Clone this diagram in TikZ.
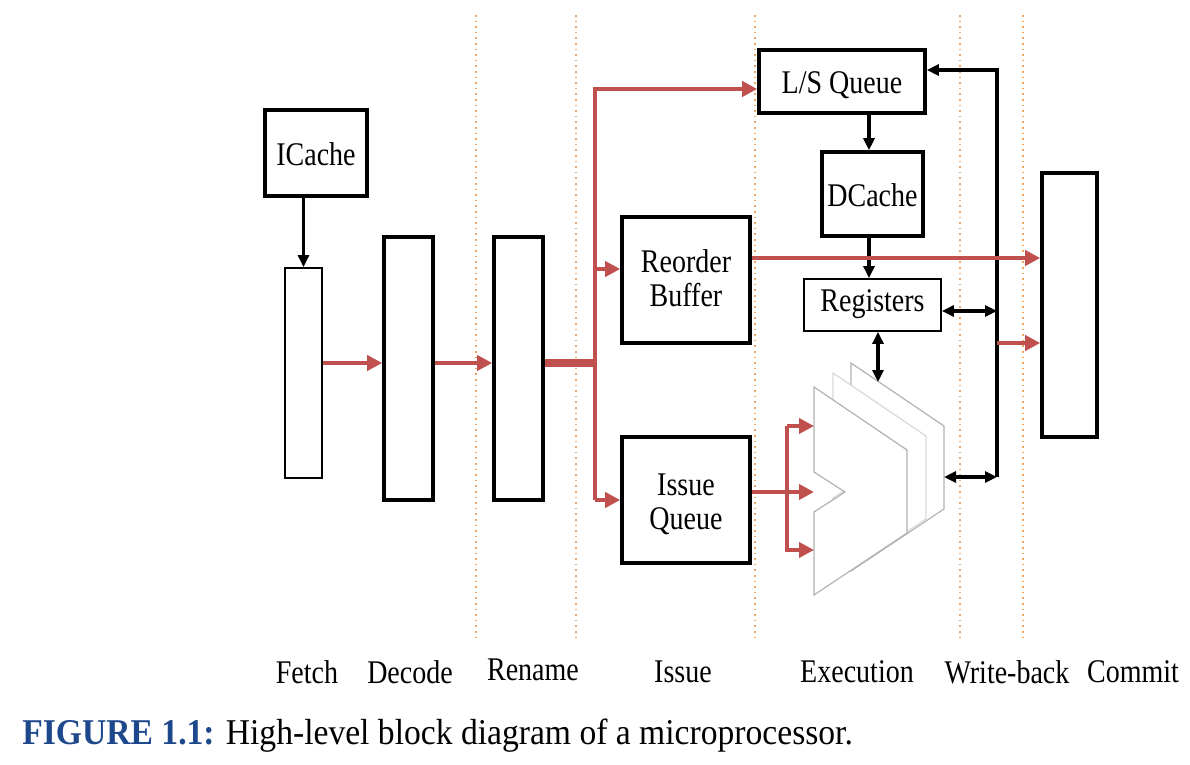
\documentclass[tikz,border=0pt]{standalone}
\usepackage{fontspec}
\setmainfont{Liberation Serif}
\usetikzlibrary{arrows.meta}
\definecolor{rd}{RGB}{192,80,77}
\definecolor{capblue}{RGB}{30,72,140}
\definecolor{dotc}{RGB}{238,165,100}
\newcommand{\vstr}[2][0pt]{\raisebox{-#1}[\height][\depth]{\scalebox{1}[1.18]{\begin{tabular}{@{}c@{}}#2\end{tabular}}}}
\newcommand{\vone}[1]{\scalebox{1}[1.18]{#1}}
\begin{document}
\begin{tikzpicture}[x=0.5pt,y=-0.5pt,
  box/.style={draw, line width=1.8pt, rectangle, inner sep=0pt, fill=white, font=\fontsize{14}{14.4}\selectfont},
  thinbox/.style={draw, line width=0.9pt, rectangle, inner sep=0pt, fill=white, font=\fontsize{14}{14.4}\selectfont},
  redline/.style={draw=rd, line width=2.4pt, line join=miter},
  redarr/.style={redline, -{Triangle[length=7.5pt,width=7.5pt]}},
  blkarr/.style={line width=1.7pt, line join=miter, -{Triangle[length=6pt,width=5.5pt]}},
  dblarr/.style={line width=1.7pt, {Triangle[length=6pt,width=5.5pt]}-{Triangle[length=6pt,width=5.5pt]}},
  stage/.style={inner sep=0pt, font=\fontsize{14}{14.4}\selectfont},
  alu/.style={fill=white, draw=gray!60, line width=0.6pt, line join=miter},
  alumid/.style={fill=white, draw=gray!30, line width=0.6pt, line join=miter},
  sep/.style={draw=dotc, dotted, line width=0.8pt}]
\useasboundingbox (0,0) rectangle (1190,765);

% stage separators
\foreach \x in {476,576,755,960,1023} \draw[sep] (\x,15) -- (\x,637);

% ALU stack
\begin{scope}[shift={(37,-24)}]
  \draw[alu] (814,387) -- (907,450) -- (907,533) -- (814,595) -- (814,512) -- (845,492) -- (814,472) -- cycle;
\end{scope}
\begin{scope}[shift={(19,-14)}]
  \draw[alumid] (814,387) -- (907,450) -- (907,533) -- (814,595) -- (814,512) -- (845,492) -- (814,472) -- cycle;
\end{scope}
\draw[alu] (814,387) -- (907,450) -- (907,533) -- (814,595) -- (814,512) -- (845,492) -- (814,472) -- cycle;
\coordinate (alutop) at (878,382);
\coordinate (aluright) at (944,477);
\coordinate (a1) at (814,426);
\coordinate (a2) at (814,492);
\coordinate (a3) at (814,550);

% boxes
\node[box, minimum width=51pt, minimum height=43pt] (icache) at (316,153) {\vstr[3pt]{ICache}};
\node[thinbox, minimum width=18.5pt, minimum height=105pt] (fetch) at (303.5,373) {};
\node[box, minimum width=24.5pt, minimum height=131.5pt] (decode) at (408.5,368.5) {};
\node[box, minimum width=24.5pt, minimum height=131.5pt] (rename) at (518.5,368.5) {};
\node[box, minimum width=64pt, minimum height=63pt] (rob) at (686,280) {\vstr[1.3pt]{Reorder\\Buffer}};
\node[box, minimum width=64pt, minimum height=63pt] (iq) at (686,500) {\vstr[3pt]{Issue\\Queue}};
\node[box, minimum width=83pt, minimum height=31.5pt] (lsq) at (842,81.5) {\vstr[2.5pt]{L/S Queue}};
\node[box, minimum width=50.5pt, minimum height=42pt] (dcache) at (872.5,194) {\vstr[3pt]{DCache}};
\node[thinbox, minimum width=68.5pt, minimum height=26pt] (regs) at (872.5,305) {\vstr{Registers}};
\node[box, minimum width=27.5pt, minimum height=132pt] (commit) at (1069.5,305) {};

% helper coordinates
\coordinate (y363) at (0,363);
\coordinate (bus) at (595,363);
\coordinate (bustop) at (595,89);
\coordinate (busbot) at (595,500);
\coordinate (ry) at (0,269);
\coordinate (y258) at (0,258);
\coordinate (x869) at (869,0);
\coordinate (wbtop) at (997,70);
\coordinate (wbbot) at (997,477);
\coordinate (wreg) at (997,311);
\coordinate (wc) at (997,343);
\coordinate (f1) at (787,426);
\coordinate (f2) at (787,492);
\coordinate (f3) at (787,550);

% black connectors
\draw[blkarr] (icache.south -| fetch.north) -- (fetch.north);
\draw[blkarr] (lsq.south -| x869) -- (dcache.north -| x869);
\draw[blkarr] (dcache.south -| x869) -- (regs.north -| x869);
\draw[dblarr] (regs.south -| alutop) -- (alutop);
\draw[blkarr] (wbbot) -- (wbtop) -- (lsq.east |- wbtop);
\draw[dblarr] (regs.east |- wreg) -- (wreg);
\draw[dblarr] (aluright) -- (wbbot);

% red connectors
\draw[redarr] (fetch.east |- y363) -- (decode.west |- y363);
\draw[redarr] (decode.east |- y363) -- (rename.west |- y363);
\draw[draw=rd, line width=3.8pt] (rename.east |- y363) -- (bus);
\draw[redarr] (busbot) -- (bustop) -- (lsq.west |- bustop);
\draw[redarr] (bus |- ry) -- (rob.west |- ry);
\draw[redarr] (busbot) -- (iq.west |- busbot);
\draw[redarr] (rob.east |- y258) -- (commit.west |- y258);
\draw[redarr] (wc) -- (commit.west |- wc);
\draw[redline] (iq.east |- f2) -- (f2);
\draw[redarr] (f1) -- (f3) -- (a3);
\draw[redarr] (f1) -- (a1);
\draw[redarr] (f2) -- (a2);

% stage labels
\node[stage] (lfetch) at (307,672) {\vone{Fetch}};
\node[stage] (ldecode) at (410,672) {\vone{Decode}};
\node[stage] (lrename) at (533,670) {\vone{Rename}};
\node[stage] (lissue) at (683,672) {\vone{Issue}};
\node[stage] (lexec) at (857,672) {\vone{Execution}};
\node[stage] (lwb) at (1007,672) {\vone{Write-back}};
\node[stage] (lcommit) at (1133,672) {\vone{Commit}};

% caption
\node[anchor=base west, inner sep=0pt, font=\fontsize{16.8}{20}\selectfont] (cap) at (22,744)
  {\scalebox{1}[1.08]{\textcolor{capblue}{\textbf{FIGURE 1.1:}} High-level block diagram of a microprocessor.}};
\end{tikzpicture}
\end{document}
